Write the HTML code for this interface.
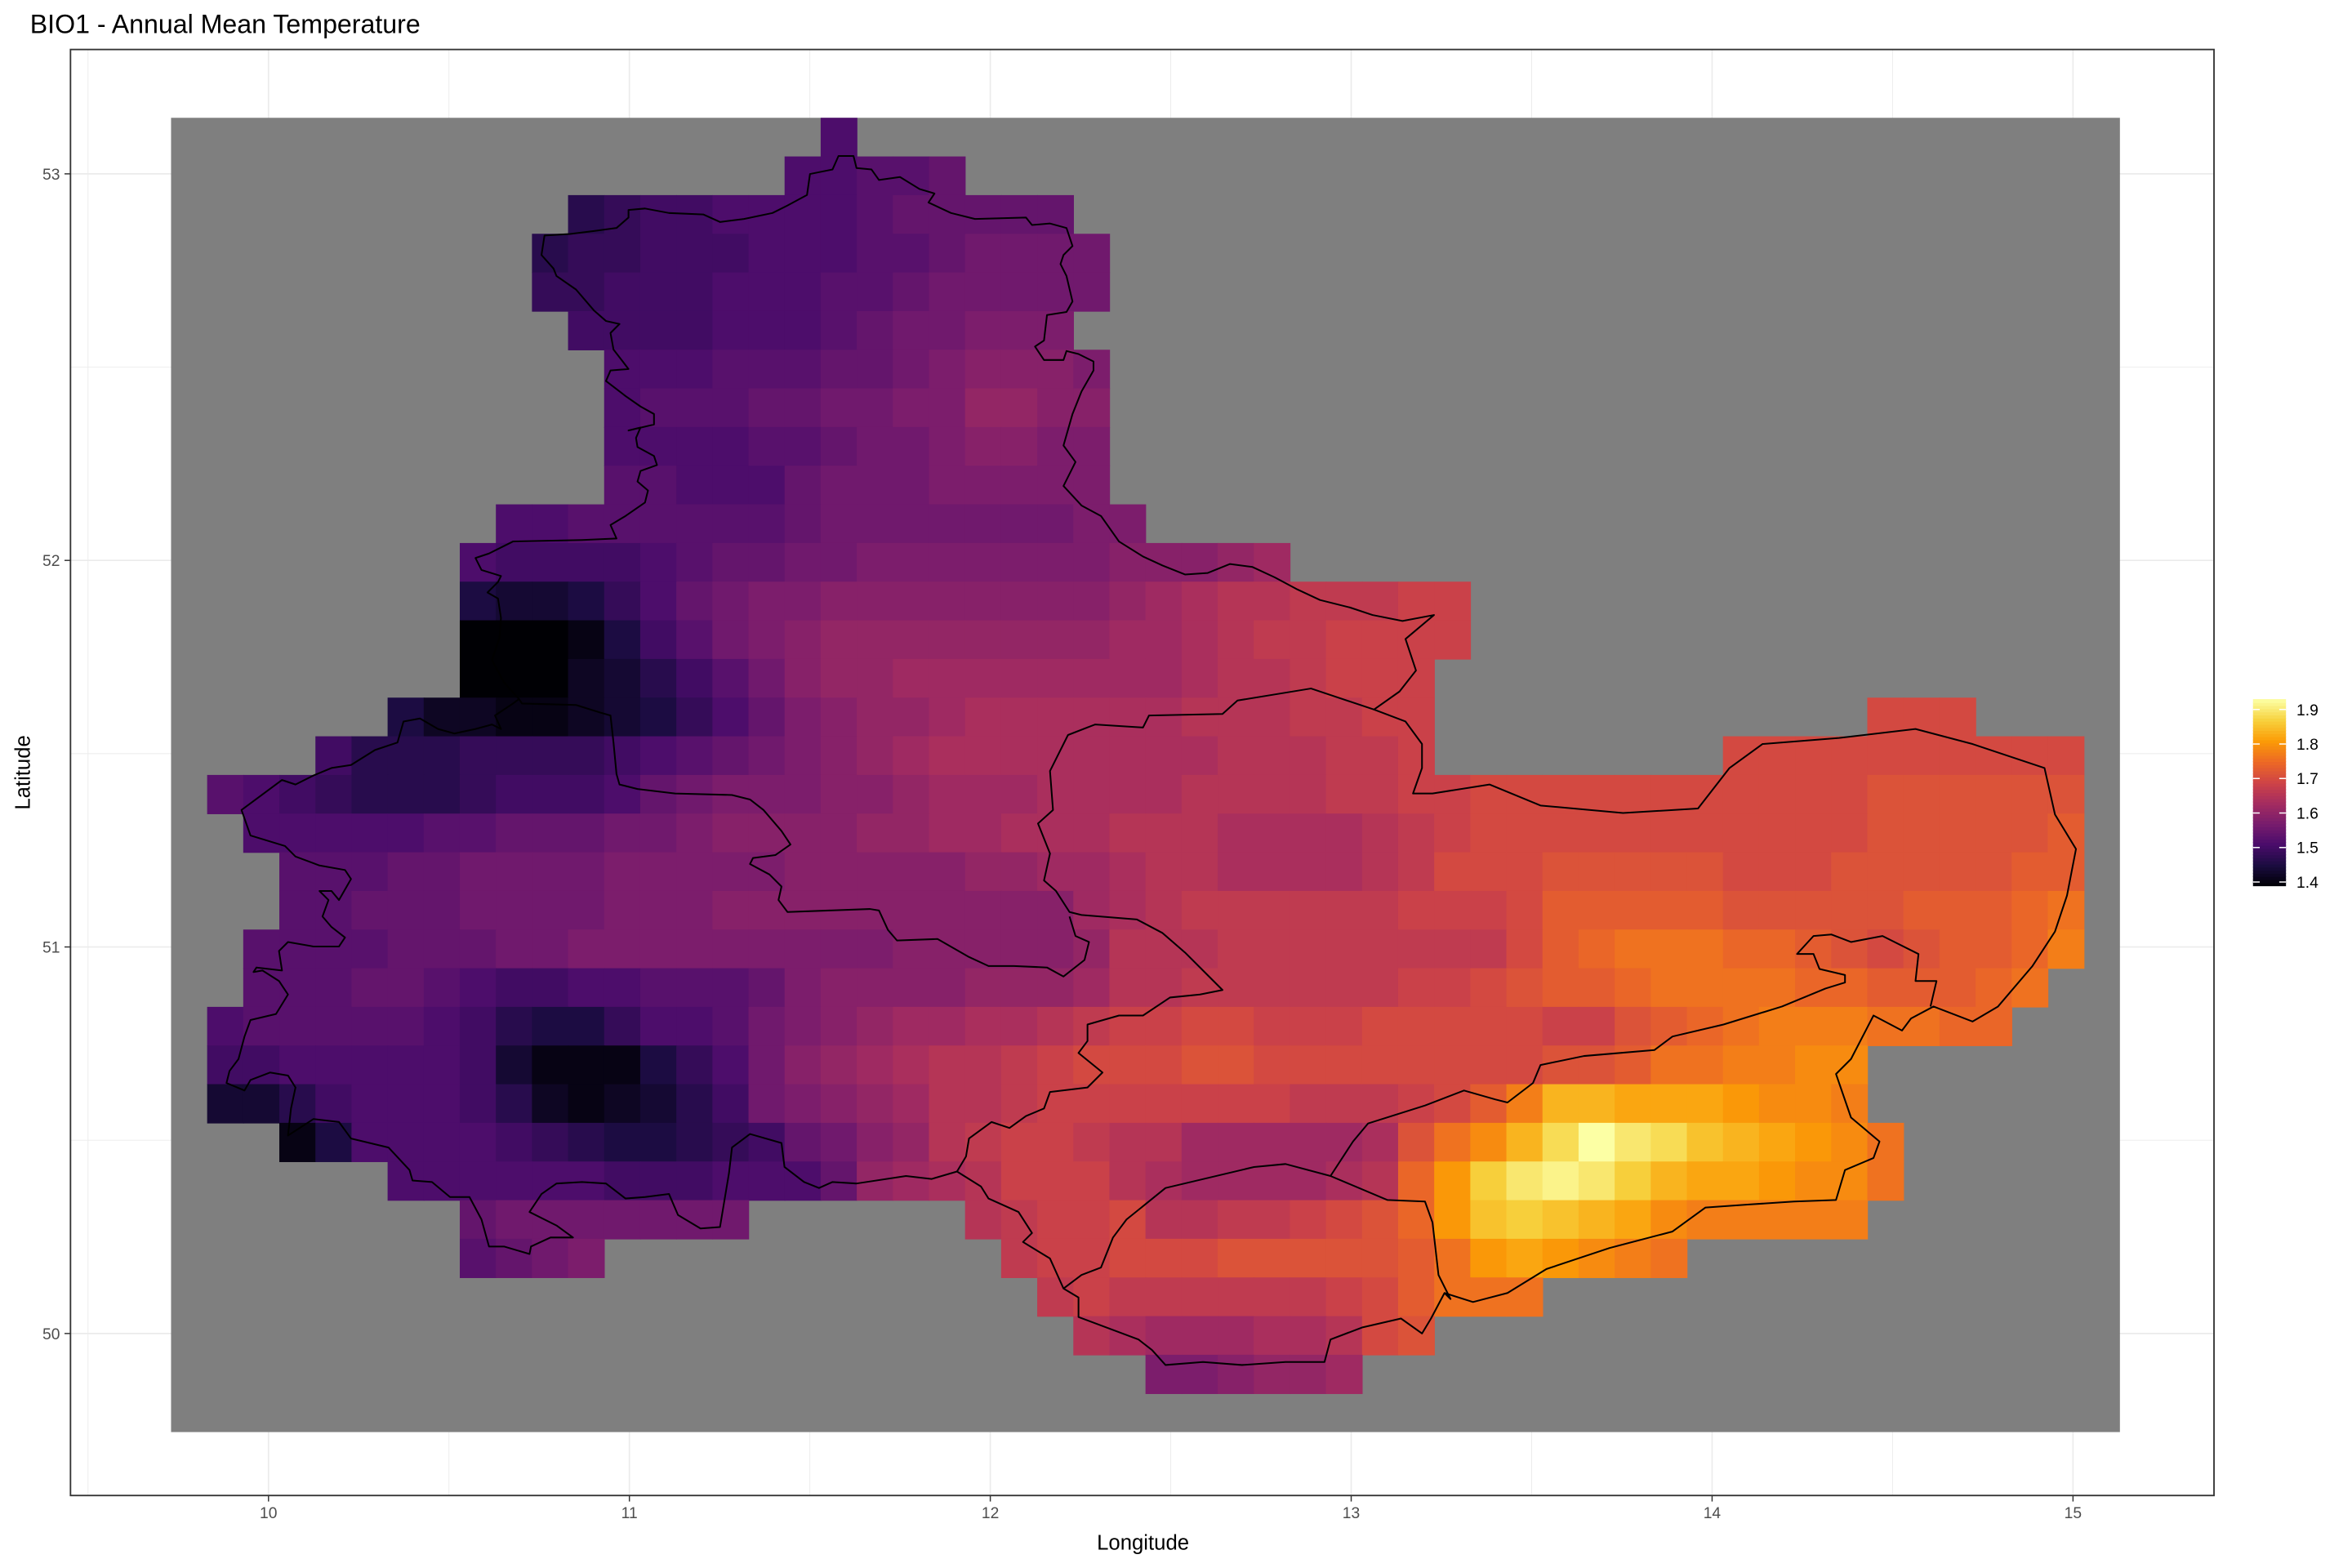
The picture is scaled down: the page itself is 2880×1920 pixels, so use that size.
<!DOCTYPE html>
<html><head><meta charset="utf-8"><title>BIO1 - Annual Mean Temperature</title>
<style>html,body{margin:0;padding:0;background:#fff}svg{display:block}text{font-family:"Liberation Sans",Arial,sans-serif}</style>
</head><body>
<svg id="chart" xmlns="http://www.w3.org/2000/svg" width="2880" height="1920" viewBox="0 0 1568 1045.33" preserveAspectRatio="none">
<rect x="0" y="0" width="1568" height="1046" fill="#ffffff"/>
<text x="20" y="22" font-size="17.5" fill="#000">BIO1 - Annual Mean Temperature</text>
<g id="grid"></g>
<g id="cells"></g>
<g id="borders" fill="none" stroke="#000" stroke-width="1.1" stroke-linejoin="round"></g>
<rect x="47" y="33" width="1429" height="964" fill="none" stroke="#333" stroke-width="1"/>
<g id="xticks"></g>
<g id="yticks"></g>
<text x="762" y="1033" font-size="14" text-anchor="middle" fill="#000">Longitude</text>
<text x="0" y="0" font-size="14" text-anchor="middle" fill="#000" transform="translate(20,515) rotate(-90)">Latitude</text>
<g id="legend"></g>
</svg>
<script>
const xTicks = [10, 11, 12, 13, 14, 15];
const yTicks = [50, 51, 52, 53];
const legendTicks = [1.4, 1.5, 1.6, 1.7, 1.8, 1.9];
const vmin = 1.39, vmax = 1.93;
const levelChars = "0123456789abcdefghijklmnopqrstuvwxyz";
const lonStart = 9.73, latTop = 53.145, cellStep = 0.1, totalCols = 54, totalRows = 34;
const cellRows = [
 [[18,"8"]],
 [[17,"8899a"]],
 [[11,"567788889aaaaa"]],
 [[10,"56677788899abbbb"]],
 [[10,"6677788899abbbbb"]],
 [[11,"77778889abbccc"]],
 [[12,"888999aabcdddc"]],
 [[12,"8999aabbcceedd"]],
 [[12,"888899abbcddcc"]],
 [[12,"99888abbbccccc"]],
 [[9,"88999999abbbbbbbcc"]],
 [[8,"8777789aabbcccccccdddef"]],
 [[8,"433468abccddddddddefghhiiijj"]],
 [[8,"0001479bcdeeeeeeeeffghiijjjj"]],
 [[8,"00023579bdeeffffffffghhijjj"]],
 [[6,"4221123468acdeefgggggghhhiijj"],[47,"kkk"]],
 [[4,"75556666789abcdefgggggggghhhiij"],[43,"kkkkkkkkkk"]],
 [[1,"987655567778abcccddefffggg"+"ghhhhiijjkkkkkkkkkkkllllll"]],
 [[2,"8888899aaabbcddddeeffgggh"+"hhgggghijkkkkkkkkkkklllllm"]],
 [[3,"999aabbbbcccccdddddeeffg"+"hhgggghikkklllllkkklllllmm"]],
 [[3,"99aaabbbbcccddddddddddfg"+"hiiiiiijjjkmmmmmlllllmmmno"]],
 [[2,"9999aaabbcccccccccdddddeh"+"hhiiiiiiiikmnooonnmlklmmnp"]],
 [[2,"999aa987788999acddddeeefh"+"hiiiiiijjklmmnoooonnmmmno"]],
 [[1,"899999875446889bcdeffgghij"+"jkkjjjkkkkkjjlmnopppoonn"]],
 [[1,"77888887"+"3111"+"468"+"bdefghhijkk"+"kllkkkkkkkkllmooppqq"]],
 [[1,"335788875212357bcdefhhijjj"+"jjjjiiijkmpttsssrqqp"]],
 [[3,"14888876544567abdehijjih"+"hfffffgloqtwzxwutsrqo"]],
 [[6,"888888777888aefghjjjh"+"gffffghnrvxyxvtssrqqo"]],
 [[8,"abbbbbbb"],[22,"hijjk"+"hhiijklnruvutsqppppp"]],
 [[8,"9abc"],[23,"ijjk"+"kklllllmorsrqpo"]],
 [[24,"iji"+"iiiiijkmooo"]],
 [[25,"hg"+"fffgghkl"]],
 [[27,"ccdeef"]],
 []
];
const infernoStops = ["#000004","#1b0c41","#4a0c6b","#781c6d","#a52c60","#cf4446","#ed6925","#fb9b06","#f7d13d","#fcffa4"];

const NS = "http://www.w3.org/2000/svg";
function xS(lon){ return 179 + (lon - 10) * 240.6; }
function yS(lat){ return 889 - (lat - 50) * 257.7; }
function cellValue(ch){ return vmin + levelChars.indexOf(ch) / 35 * (vmax - vmin); }
function hex(h){ return [parseInt(h.substr(1,2),16),parseInt(h.substr(3,2),16),parseInt(h.substr(5,2),16)]; }
function colorOf(v){
  let t = (v - vmin) / (vmax - vmin); t = Math.max(0, Math.min(1, t));
  const p = t * (infernoStops.length - 1), i = Math.min(infernoStops.length - 2, Math.floor(p)), f = p - i;
  const a = hex(infernoStops[i]), b = hex(infernoStops[i+1]);
  return "rgb(" + a.map((x,k)=>Math.round(x + (b[k]-x)*f)).join(",") + ")";
}
function mk(tag, attrs, parent){ const e = document.createElementNS(NS, tag); for (const k in attrs) e.setAttribute(k, attrs[k]); parent.appendChild(e); return e; }

// grid lines
const grid = document.getElementById("grid");
[9.5,10,10.5,11,11.5,12,12.5,13,13.5,14,14.5,15].forEach(function(v){
  const major = Number.isInteger(v);
  const l = mk("line", {x1:xS(v), x2:xS(v), y1:33, y2:997, stroke:"#ebebeb", "stroke-width": major?0.9:0.5}, grid);
  
  
});
[50,50.5,51,51.5,52,52.5,53].forEach(function(v){
  const major = Number.isInteger(v);
  const l = mk("line", {x1:47, x2:1476, y1:yS(v), y2:yS(v), stroke:"#ebebeb", "stroke-width": major?0.9:0.5}, grid);
  
  
});

// raster
const cells = document.getElementById("cells");
const bg = mk("rect", {x:xS(lonStart), y:yS(latTop), width:xS(lonStart+totalCols*cellStep)-xS(lonStart), height:yS(latTop-totalRows*cellStep)-yS(latTop), fill:"#7f7f7f"}, cells);


cellRows.forEach(function(segs, r){
  segs.forEach(function(seg){
    const c0 = seg[0], s = seg[1];
    for (let i = 0; i < s.length; i++){
      const lon = lonStart + (c0 + i) * cellStep, lat = latTop - r * cellStep;
      const x0 = xS(lon), x1 = xS(lon + cellStep), y0 = yS(lat), y1 = yS(lat - cellStep);
      const rc = mk("rect", {x:x0, y:y0, width:x1-x0+0.4, height:y1-y0+0.4, fill:colorOf(cellValue(s[i]))}, cells);
      
      
    }
  });
});

// borders
const borders = document.getElementById("borders");
const outerPts = "538,130 540,116 555,113 559,104 569,104 571,112 581,113 586,120 600,118 613,126 623,129 619,135 634,142 650,146 684,145 688,150 700,149 711,152 715,164 709,170 707,176 711,184 715,201 711,208 698,210 696,227 690,231 696,240 709,240 711,234 719,236 729,241 729,247 721,261 715,276 709,297 717,308 709,324 721,337 734,344 746,361 762,371 775,377 790,383 805,382 820,376 835,378 850,385 865,393 880,400 900,405 915,410 935,414 956,410 937,426 944,447 933,461 916,473 937,481 948,496 948,512 942,529 955,529 993,523 1027,537 1082,542 1132,539 1153,512 1175,496 1226,492 1277,486 1315,496 1363,512 1370,543 1384,566 1378,597 1370,621 1355,644 1332,671 1315,681 1289,671 1274,679 1268,687 1249,677 1234,706 1224,716 1234,745 1253,761 1249,772 1230,780 1224,800 1196,801 1166,803 1137,805 1115,821 1073,832 1031,846 1005,862 982,868 963,862 954,879 948,889 934,879 908,885 887,893 883,908 857,908 828,910 802,908 777,910 768,900 759,893 719,878 719,865 709,859 700,839 682,828 688,822 679,808 659,799 654,791 638,781 621,786 604,784 571,789 555,788 546,792 536,788 523,778 521,762 500,756 488,765 486,782 480,818 467,819 452,810 446,796 430,798 417,799 404,789 388,788 371,789 361,796 353,808 371,817 382,825 367,825 354,831 353,836 336,831 326,831 321,813 313,798 300,798 288,788 275,787 273,780 259,765 234,759 226,748 209,746 192,757 194,739 197,725 192,717 180,715 167,720 163,727 151,722 153,714 159,706 163,691 167,680 184,676 192,663 186,654 175,647 169,648 171,645 188,647 186,634 192,628 209,631 226,631 230,625 221,618 215,611 219,600 213,594 221,594 226,600 234,586 230,580 213,577 197,571 190,564 167,557 161,540 188,520 197,523 209,517 221,512 234,510 250,500 265,495 269,481 280,479 292,486 303,489 317,486 328,483 334,486 330,477 342,469 346,466 336,455 328,440 333,425 334,412 332,399 325,395 332,388 334,384 321,380 317,372 326,369 336,364 342,361 388,360 411,359 407,350 417,344 430,335 432,327 425,321 427,314 438,310 436,304 425,298 424,292 427,285 419,287 436,283 436,276 427,271 417,264 404,254 407,247 419,246 409,233 407,222 413,216 404,214 396,207 384,193 371,184 369,179 361,170 363,157 380,156 396,154 411,152 419,145 419,140 430,139 446,142 469,143 480,148 496,146 515,142 525,137";
const o = mk("polygon", {points: outerPts}, borders);


const innerLines = [
 "346,466 348,469 384,470 400,475 407,477 409,495 411,516 413,523 425,526 450,529 488,530 500,533 509,540 521,554 527,563 517,570 502,572 500,576 513,583 521,591 519,600 525,608 580,606 586,607 592,620 598,627 625,626 646,638 659,644 676,644 698,645 709,651 723,640 726,628 717,624 713,611",
 "916,473 874,459 825,467 815,476 766,477 762,485 730,483 712,490 700,514 702,540 692,549 700,569 696,587 704,594 713,608 721,610 758,613 775,622 790,635 805,650 815,660 800,663 780,665 762,677 746,677 725,683 725,694 719,702 735,715 725,725 700,728 696,739 684,744 673,752 661,748 646,759 644,771 638,781",
 "709,859 721,850 734,845 742,825 751,813 777,792 836,778 857,776 887,784 902,761 912,749 950,737 976,727 997,733 1005,735 1022,722 1027,710 1056,704 1103,700 1115,691 1149,683 1188,671 1217,659 1230,655 1230,650 1213,646 1209,636 1198,636 1209,624 1221,623 1234,628 1255,624 1279,636 1277,654 1291,654 1287,671",
 "887,784 925,800 950,801 955,815 959,850 967,866 963,862"
];
innerLines.forEach(function(p){
  const pl = mk("polyline", {points: p}, borders);
  
  
});

// axes
const xg = document.getElementById("xticks");
xTicks.forEach(function(v){
  const t = mk("line", {x1:xS(v), x2:xS(v), y1:997, y2:1001, stroke:"#333", "stroke-width":0.8}, xg);
  
  
  const tx = mk("text", {x:xS(v), y:1012, "font-size":10.5, "text-anchor":"middle", fill:"#4d4d4d"}, xg);
  tx.textContent = String(v);
  
  
});
const yg = document.getElementById("yticks");
yTicks.forEach(function(v){
  const t = mk("line", {x1:43, x2:47, y1:yS(v), y2:yS(v), stroke:"#333", "stroke-width":0.8}, yg);
  
  
  const tx = mk("text", {x:40, y:yS(v)+3.8, "font-size":10.5, "text-anchor":"end", fill:"#4d4d4d"}, yg);
  tx.textContent = String(v);
  
  
});

// legend
const lg = document.getElementById("legend");
function yL(v){ return 588 - (v - 1.4) * 230; }
const steps = 60;
for (let i = 0; i < steps; i++){
  const va = vmin + (vmax - vmin) * i / steps, vb = vmin + (vmax - vmin) * (i + 1) / steps;
  const rc = mk("rect", {x:1502, y:yL(vb), width:22, height:yL(va)-yL(vb)+0.5, fill:colorOf((va+vb)/2)}, lg);
  
  
}
legendTicks.forEach(function(v){
  const a = mk("line", {x1:1502, x2:1506.5, y1:yL(v), y2:yL(v), stroke:"#fff", "stroke-width":0.8}, lg);
  
  
  const b = mk("line", {x1:1519.5, x2:1524, y1:yL(v), y2:yL(v), stroke:"#fff", "stroke-width":0.8}, lg);
  
  
  const tx = mk("text", {x:1531, y:yL(v)+3.8, "font-size":10.5, fill:"#000"}, lg);
  tx.textContent = v.toFixed(1);
  
  
});
</script>
</body></html>
